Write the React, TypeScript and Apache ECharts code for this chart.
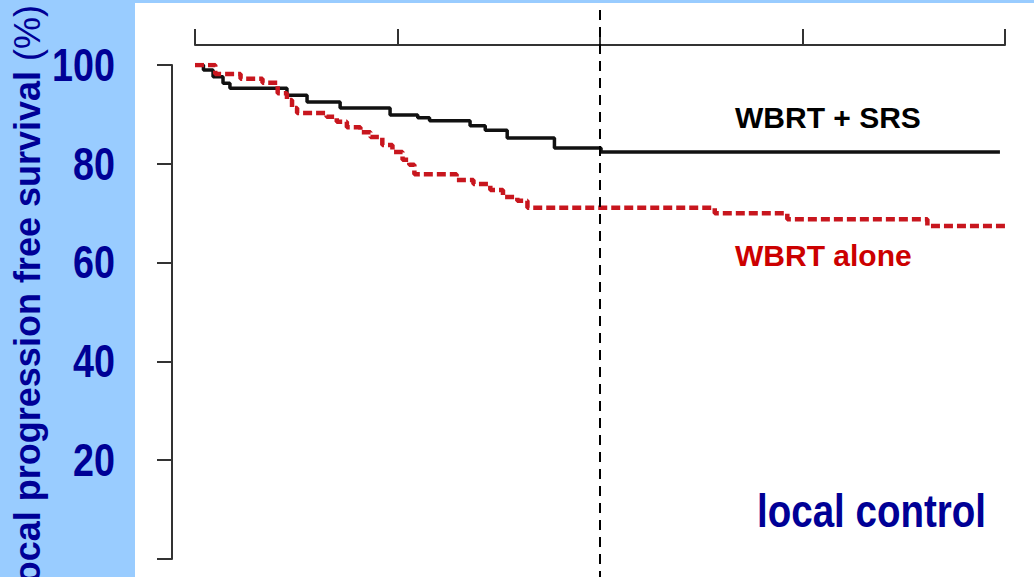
import React, { useEffect, useRef } from "react";
import * as echarts from "echarts";

// Follow-up time in months and Kaplan-Meier survival (%) for each arm
const srsMonths = [0, 0.5, 1.07, 1.66, 2.07, 5.45, 6.64, 8.6, 11.56, 13.2, 13.9, 16.3, 17.2, 18.5, 21.3, 24.06, 47.7];
const srsSurvival = [100, 99, 97.6, 96.3, 95.3, 93.9, 92.5, 91.3, 89.9, 89.3, 88.7, 87.7, 86.8, 85.2, 83.2, 82.4, 82.4];

const aloneMonths = [0, 1.2, 2.7, 4.0, 4.9, 5.45, 5.75, 6.05, 7.8, 8.4, 9.0, 9.8, 10.4, 11.1, 11.7, 12.3, 12.7, 13.0, 15.5, 16.5, 17.5, 18.25, 19.1, 19.7, 30.8, 35.1, 43.4, 48];
const aloneSurvival = [100, 98.2, 97.2, 96.4, 94.3, 92.9, 91.3, 90.3, 89.5, 88.5, 87.4, 86.4, 85.4, 83.8, 82.4, 80.8, 79.8, 77.9, 76.7, 75.9, 74.7, 73.3, 72.5, 71.1, 70.0, 68.8, 67.4, 67.4];

const yTicks = [0, 20, 40, 60, 80, 100];
const yTickLabels = ["", "20", "40", "60", "80", "100"];
const xTicks = [0, 12, 24, 36, 48];
const landmarkMonth = 24;

const seriesNames = ["WBRT + SRS", "WBRT alone"];
const yTitle = "Local progression free survival ";
const yUnit = "(%)";
const panelNote = "local control";

const NAVY = "#000096";
const PANEL = "#99ccff";
const SANS = "'Liberation Sans', Arial, sans-serif";
// condensed look for the big navy lettering
const SQUEEZE = 0.82;

export default function App() {
  const ref = useRef<HTMLDivElement>(null);

  useEffect(() => {
    if (!ref.current) return;
    const chart = echarts.init(ref.current, undefined, { renderer: "svg" });

    const pairs = (xs: number[], ys: number[]) => xs.map((x, i) => [x, ys[i]]);

    const baseGraphics: any[] = [
      {
        type: "rect",
        z: -10,
        shape: { x: 135, y: 3, width: 1034 - 135, height: 577 },
        style: { fill: "#ffffff" },
      },
      {
        type: "text",
        x: 27,
        y: 5,
        rotation: Math.PI / 2,
        style: {
          text: `{b|${yTitle}}{r|${yUnit}}`,
          align: "right",
          verticalAlign: "middle",
          rich: {
            b: { fontFamily: SANS, fontWeight: "bold", fontSize: 36, fill: NAVY },
            r: { fontFamily: SANS, fontWeight: "normal", fontSize: 36, fill: NAVY },
          },
        },
      },
      {
        type: "text",
        x: 735,
        y: 117,
        style: {
          text: seriesNames[0],
          fontFamily: SANS,
          fontWeight: "bold",
          fontSize: 30,
          fill: "#000000",
          verticalAlign: "middle",
        },
      },
      {
        type: "text",
        x: 735,
        y: 255,
        style: {
          text: seriesNames[1],
          fontFamily: SANS,
          fontWeight: "bold",
          fontSize: 30,
          fill: "#cc0000",
          verticalAlign: "middle",
        },
      },
      {
        type: "text",
        x: 757,
        y: 511,
        scaleX: SQUEEZE,
        style: {
          text: panelNote,
          fontFamily: SANS,
          fontWeight: "bold",
          fontSize: 47,
          fill: NAVY,
          verticalAlign: "middle",
        },
      },
    ];

    chart.setOption({
      animation: false,
      backgroundColor: PANEL,
      grid: { left: 195, right: 29, top: 65, bottom: 18 },
      xAxis: {
        type: "value",
        position: "top",
        offset: 20,
        min: xTicks[0],
        max: xTicks[xTicks.length - 1],
        interval: 12,
        axisLine: { show: true, onZero: false, lineStyle: { color: "#333", width: 2 } },
        axisTick: { show: true, inside: false, length: 16, lineStyle: { color: "#333", width: 2 } },
        axisLabel: { show: false },
        splitLine: { show: false },
      },
      yAxis: {
        type: "value",
        position: "left",
        min: yTicks[0],
        max: yTicks[yTicks.length - 1],
        interval: 20,
        offset: 23,
        axisLine: { show: true, onZero: false, lineStyle: { color: "#333", width: 2 } },
        axisTick: { show: true, inside: false, length: 15, lineStyle: { color: "#333", width: 2 } },
        axisLabel: { show: false },
        splitLine: { show: false },
      },
      graphic: baseGraphics,
      series: [
        {
          name: seriesNames[0],
          type: "line",
          step: "end",
          showSymbol: false,
          symbol: "none",
          data: pairs(srsMonths, srsSurvival),
          lineStyle: { color: "#111111", width: 3.5 },
          z: 3,
        },
        {
          name: seriesNames[1],
          type: "line",
          step: "end",
          showSymbol: false,
          symbol: "none",
          data: pairs(aloneMonths, aloneSurvival),
          lineStyle: { color: "#c8161e", width: 4.5, type: [9, 4] },
          z: 4,
        },
        {
          // landmark line at 24 months, running past the plot edges
          name: "landmark",
          type: "custom",
          clip: false,
          data: [[landmarkMonth]],
          renderItem: (_params: any, api: any) => {
            const p = api.coord([api.value(0), 0]);
            return {
              type: "line",
              shape: { x1: p[0], y1: 10, x2: p[0], y2: 577 },
              style: { stroke: "#000000", lineWidth: 2, lineDash: [10, 7] },
            };
          },
          z: 5,
        },
      ],
    });

    // tick labels placed on the y scale, drawn condensed
    const tickLabels = yTicks.map((v, i) => {
      const y = chart.convertToPixel({ yAxisIndex: 0 }, v) as number;
      return {
        type: "text",
        x: 115,
        y,
        scaleX: SQUEEZE,
        style: {
          text: yTickLabels[i],
          fontFamily: SANS,
          fontWeight: "bold",
          fontSize: 46,
          fill: NAVY,
          align: "right",
          verticalAlign: "middle",
        },
      };
    });
    chart.setOption({ graphic: [...baseGraphics, ...tickLabels] });

    return () => chart.dispose();
  }, []);

  return (
    <div
      ref={ref}
      style={{ position: "fixed", left: 0, top: 0, width: 1034, height: 577 }}
    />
  );
}
